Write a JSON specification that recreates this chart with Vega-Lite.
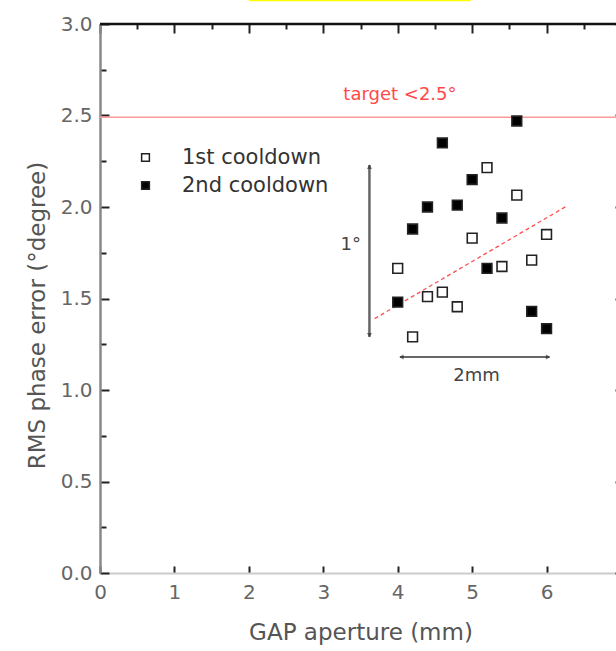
{
  "$schema": "https://vega.github.io/schema/vega-lite/v6.json",
  "autosize": "none",
  "width": 521,
  "height": 549,
  "padding": {"left": 100, "top": 24, "right": 0, "bottom": 78},
  "background": "white",
  "config": {
    "font": "DejaVu Sans",
    "view": {"stroke": null},
    "axis": {"grid": false, "labelFont": "DejaVu Sans", "titleFont": "DejaVu Sans", "labelFontSize": 20, "labelColor": "#666", "titleFontSize": 23, "titleFontWeight": "normal", "titleColor": "#555", "tickColor": "#222", "tickWidth": 2, "labelFlush": false}
  },
  "datasets": {
    "pts": [
      {"gap": 5.6, "rms": 2.47, "run": "2nd cooldown"},
      {"gap": 4.6, "rms": 2.35, "run": "2nd cooldown"},
      {"gap": 5.0, "rms": 2.15, "run": "2nd cooldown"},
      {"gap": 4.4, "rms": 2.0, "run": "2nd cooldown"},
      {"gap": 4.8, "rms": 2.01, "run": "2nd cooldown"},
      {"gap": 4.2, "rms": 1.88, "run": "2nd cooldown"},
      {"gap": 5.4, "rms": 1.94, "run": "2nd cooldown"},
      {"gap": 5.2, "rms": 1.665, "run": "2nd cooldown"},
      {"gap": 4.0, "rms": 1.48, "run": "2nd cooldown"},
      {"gap": 5.8, "rms": 1.43, "run": "2nd cooldown"},
      {"gap": 6.0, "rms": 1.335, "run": "2nd cooldown"},
      {"gap": 5.2, "rms": 2.215, "run": "1st cooldown"},
      {"gap": 5.6, "rms": 2.065, "run": "1st cooldown"},
      {"gap": 5.0, "rms": 1.83, "run": "1st cooldown"},
      {"gap": 6.0, "rms": 1.85, "run": "1st cooldown"},
      {"gap": 4.0, "rms": 1.665, "run": "1st cooldown"},
      {"gap": 5.4, "rms": 1.675, "run": "1st cooldown"},
      {"gap": 5.8, "rms": 1.71, "run": "1st cooldown"},
      {"gap": 4.4, "rms": 1.51, "run": "1st cooldown"},
      {"gap": 4.6, "rms": 1.535, "run": "1st cooldown"},
      {"gap": 4.8, "rms": 1.455, "run": "1st cooldown"},
      {"gap": 4.2, "rms": 1.29, "run": "1st cooldown"}
    ]
  },
  "layer": [
    {
      "layer": [
        {
          "data": {"values": [{"x": 2.0, "x2": 4.98, "y": 3.124, "y2": 3.14}]},
          "mark": {"type": "rect", "color": "#ffff00", "clip": false},
          "encoding": {
            "x": {"field": "x", "type": "quantitative", "scale": {"domain": [0, 7], "nice": false}, "axis": {"orient": "bottom", "title": "GAP aperture (mm)", "values": [0,0.5,1,1.5,2,2.5,3,3.5,4,4.5,5,5.5,6,6.5,7], "format": "d", "labelExpr": "datum.value % 1 === 0 ? datum.label : ''", "tickSize": {"condition": {"test": "datum.value % 1 === 0", "value": -7}, "value": -4}, "domainColor": "#ccc", "domainWidth": 2, "labelPadding": 16, "titlePadding": 19}},
            "x2": {"field": "x2"},
            "y": {"field": "y", "type": "quantitative", "scale": {"domain": [0, 3], "nice": false}, "axis": {"orient": "left", "title": "RMS phase error (°degree)", "values": [0,0.25,0.5,0.75,1,1.25,1.5,1.75,2,2.25,2.5,2.75,3], "format": ".1f", "labelExpr": "(datum.value * 2) % 1 === 0 ? datum.label : ''", "tickSize": {"condition": {"test": "(datum.value * 2) % 1 === 0", "value": -9}, "value": -6}, "domainColor": "#888", "domainWidth": 2.5, "labelPadding": 17, "titleX": -63, "titleY": 291, "titleAlign": "center", "titleBaseline": "middle", "titleAngle": 270}},
            "y2": {"field": "y2"}
          }
        },
        {
          "data": {"values": [{"x": 0, "x2": 7, "y": 2.49}]},
          "mark": {"type": "rule", "color": "#ff9a9a", "strokeWidth": 1.5},
          "encoding": {
            "x": {"field": "x", "type": "quantitative"},
            "x2": {"field": "x2"},
            "y": {"field": "y", "type": "quantitative"}
          }
        },
        {
          "data": {"values": [{"x": 4.03, "y": 2.61, "t": "target <2.5°"}]},
          "mark": {"type": "text", "color": "#ff4a4a", "fontSize": 18, "font": "DejaVu Sans"},
          "encoding": {
            "x": {"field": "x", "type": "quantitative"},
            "y": {"field": "y", "type": "quantitative"},
            "text": {"field": "t"}
          }
        },
        {
          "data": {"values": [{"x": 3.69, "y": 1.39}, {"x": 6.27, "y": 2.005}]},
          "mark": {"type": "line", "color": "#ff5050", "strokeWidth": 1.3, "strokeDash": [4, 3]},
          "encoding": {
            "x": {"field": "x", "type": "quantitative"},
            "y": {"field": "y", "type": "quantitative"}
          }
        },
        {
          "data": {"values": [{"x": 3.62, "y": 1.29, "y2": 2.23}]},
          "mark": {"type": "rule", "color": "#666", "strokeWidth": 2.5},
          "encoding": {
            "x": {"field": "x", "type": "quantitative"},
            "y": {"field": "y", "type": "quantitative"},
            "y2": {"field": "y2"}
          }
        },
        {
          "data": {"values": [{"x": 4.03, "x2": 6.04, "y": 1.18}]},
          "mark": {"type": "rule", "color": "#333", "strokeWidth": 1.5},
          "encoding": {
            "x": {"field": "x", "type": "quantitative"},
            "x2": {"field": "x2"},
            "y": {"field": "y", "type": "quantitative"}
          }
        },
        {
          "data": {"values": [
            {"x": 3.62, "y": 2.22, "s": "triangle-up"},
            {"x": 3.62, "y": 1.30, "s": "triangle-down"},
            {"x": 4.05, "y": 1.18, "s": "triangle-left"},
            {"x": 6.02, "y": 1.18, "s": "triangle-right"}
          ]},
          "mark": {"type": "point", "filled": true, "color": "#333", "size": 25},
          "encoding": {
            "x": {"field": "x", "type": "quantitative"},
            "y": {"field": "y", "type": "quantitative"},
            "shape": {"field": "s", "type": "nominal", "scale": null, "legend": null}
          }
        },
        {
          "data": {"values": [{"x": 3.37, "y": 1.79, "t": "1°"}, {"x": 5.06, "y": 1.075, "t": "2mm"}]},
          "mark": {"type": "text", "color": "#444", "fontSize": 18, "font": "DejaVu Sans"},
          "encoding": {
            "x": {"field": "x", "type": "quantitative"},
            "y": {"field": "y", "type": "quantitative"},
            "text": {"field": "t"}
          }
        },
        {
          "data": {"name": "pts"},
          "mark": {"type": "point", "shape": "square", "size": 95, "stroke": "#222", "strokeWidth": 1.6, "opacity": 1},
          "encoding": {
            "x": {"field": "gap", "type": "quantitative"},
            "y": {"field": "rms", "type": "quantitative"},
            "fill": {"field": "run", "type": "nominal", "scale": {"domain": ["1st cooldown", "2nd cooldown"], "range": ["white", "black"]},
              "legend": {"title": null, "orient": "none", "legendX": 35, "legendY": 123, "padding": 0, "symbolType": "square", "symbolSize": 60, "symbolStrokeColor": "#222", "symbolStrokeWidth": 1.5, "labelFontSize": 21, "labelColor": "#333", "labelFont": "DejaVu Sans", "labelOffset": 26, "rowPadding": 6}}
          }
        }
      ]
    },
    {
      "data": {"values": [{"x": 0, "x2": 7, "y": 3.0}]},
      "mark": {"type": "rule", "color": "#111", "strokeWidth": 2.5},
      "encoding": {
        "x": {"field": "x", "type": "quantitative", "axis": {"orient": "top", "title": null, "labels": false, "domain": false, "values": [0,0.5,1,1.5,2,2.5,3,3.5,4,4.5,5,5.5,6,6.5,7], "tickSize": {"condition": {"test": "datum.value % 1 === 0", "value": -9}, "value": -5}}},
        "x2": {"field": "x2"},
        "y": {"field": "y", "type": "quantitative", "axis": {"orient": "right", "title": null, "labels": false, "domain": false, "values": [0,0.25,0.5,0.75,1,1.25,1.5,1.75,2,2.25,2.5,2.75,3], "tickSize": {"condition": {"test": "(datum.value * 2) % 1 === 0", "value": -6}, "value": -3}}}
      }
    }
  ],
  "resolve": {"axis": {"x": "independent", "y": "independent"}}
}
